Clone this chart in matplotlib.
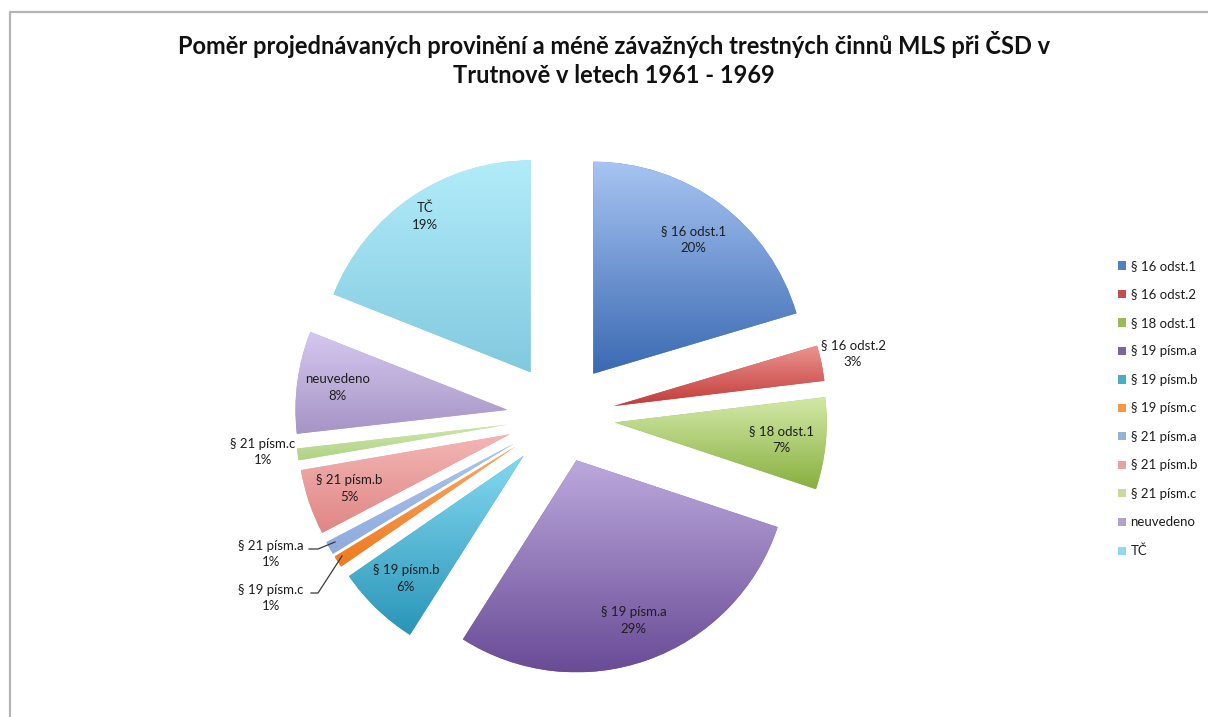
import numpy as np
import matplotlib
matplotlib.use('Agg')
import matplotlib.pyplot as plt
from matplotlib.colors import to_rgb

# ---------------- data ----------------
categories = ['§ 16 odst.1', '§ 16 odst.2', '§ 18 odst.1', '§ 19 písm.a', '§ 19 písm.b',
              '§ 19 písm.c', '§ 21 písm.a', '§ 21 písm.b', '§ 21 písm.c', 'neuvedeno', 'TČ']
shares = [20.4, 2.7, 7.0, 28.9, 6.4, 0.9, 1.0, 5.0, 0.9, 7.8, 19.0]
title = ('Poměr projednávaných provinění a méně závažných trestných činnů MLS při ČSD v\n'
         'Trutnově v letech 1961 - 1969')

# ---------------- style ----------------
top_colors = ['#a7c4f2', '#ec9592', '#d4e9a9', '#bca9dc', '#84d8f0', '#fbaa66',
              '#adc6ef', '#f3b6b5', '#cfe7ac', '#d5c8ee', '#b2ecfa']
bottom_colors = ['#3a69b2', '#c23b37', '#88b03f', '#694b96', '#2995b8', '#ee7a1f',
                 '#8eabdd', '#df8684', '#b0d284', '#a594c6', '#82c9df']
base_colors = ['#4f81bd', '#c0504d', '#9bbb59', '#8064a2', '#4bacc6', '#f79646',
               '#95b3d7', '#e6a1a0', '#c3dc9d', '#b3a2c7', '#93d8ea']
explode_px = [54, 54, 54, 46, 54, 54, 54, 54, 54, 54, 54]

FONT = ['Lato', 'DejaVu Sans']
plt.rcParams['font.family'] = FONT
TXT = '#1e1e1e'

W, H = 1208, 717
CX, CY, R = 561.0, 417.0, 212.0   # pie centre / radius in image pixels

fig = plt.figure(figsize=(W / 100, H / 100), dpi=100)
ax = fig.add_axes([0, 0, 1, 1])


def px(x, y):
    """image pixel -> data units (radius = 1)"""
    return (x - CX) / R, (CY - y) / R


wedges, _ = ax.pie(shares, radius=1.0, center=(0, 0), startangle=90, counterclock=False,
                   explode=[e / R for e in explode_px], colors=base_colors,
                   wedgeprops=dict(linewidth=0))

# vertical gradient inside each slice
n = 256
t = np.linspace(0, 1, n)[:, None]
for w, tc, bc in zip(wedges, top_colors, bottom_colors):
    a = np.array(to_rgb(tc)); b = np.array(to_rgb(bc))
    img = (a[None, :] * (1 - t) + b[None, :] * t).reshape(n, 1, 3)
    ext = w.get_path().get_extents()
    im = ax.imshow(img, extent=(ext.x0, ext.x1, ext.y0, ext.y1), origin='upper',
                   aspect='auto', interpolation='bilinear', zorder=w.get_zorder() + 0.1)
    im.set_clip_path(w)

# data labels
total = sum(shares)
LFS = 9.5
LSP = 1.5
inside = {0: 0.79, 2: 0.79, 3: 0.80, 4: 0.80, 7: 0.80, 9: 0.81, 10: 0.89}
for i, w in enumerate(wedges):
    lab = f'{categories[i]}\n{round(shares[i] / total * 100):.0f}%'
    thm = np.deg2rad((w.theta1 + w.theta2) / 2)
    cx, cy = w.center
    if i in inside:
        r = inside[i]
        ax.text(cx + r * np.cos(thm), cy + r * np.sin(thm), lab, ha='center', va='center',
                fontsize=LFS, color=TXT, linespacing=LSP, zorder=5)

# outside labels
for i, (lx, ly) in {1: (853, 354), 8: (263, 452), 6: (271, 554), 5: (271, 598)}.items():
    ax.text(*px(lx, ly), f'{categories[i]}\n{round(shares[i] / total * 100):.0f}%',
            ha='center', va='center', fontsize=LFS, color=TXT, linespacing=LSP)

# leader lines
for pts in ([(309, 549), (318, 549), (335, 542)], [(311, 593), (318, 593), (342, 556)]):
    xs, ys = zip(*[px(*p) for p in pts])
    ax.plot(xs, ys, color='#3a3a3a', lw=0.9, zorder=4)

# outer chart border (top and left edge visible)
bx, by = zip(*[px(10, H + 5), px(10, 12), px(W + 5, 12)])
ax.plot(bx, by, color='#b4b4b4', lw=1.6, zorder=1)

# title
fig.text(614 / W, 1 - 59 / H, title, ha='center', va='center', fontsize=17,
         fontweight='bold', color='#111111', linespacing=1.3)

# legend
leg = fig.legend(wedges, categories, loc='upper left', bbox_to_anchor=(1118 / W, 1 - 260 / H),
                 frameon=False, fontsize=9.5, handlelength=0.6, handleheight=0.6,
                 handletextpad=0.35, labelspacing=1.25, borderpad=0, borderaxespad=0)
for t_ in leg.get_texts():
    t_.set_color(TXT)

x0, y0 = px(0, H)
x1, y1 = px(W, 0)
ax.set_xlim(x0, x1)
ax.set_ylim(y0, y1)
ax.set_aspect('auto')
ax.axis('off')

fig.savefig('out.png', dpi=100, facecolor='white')
